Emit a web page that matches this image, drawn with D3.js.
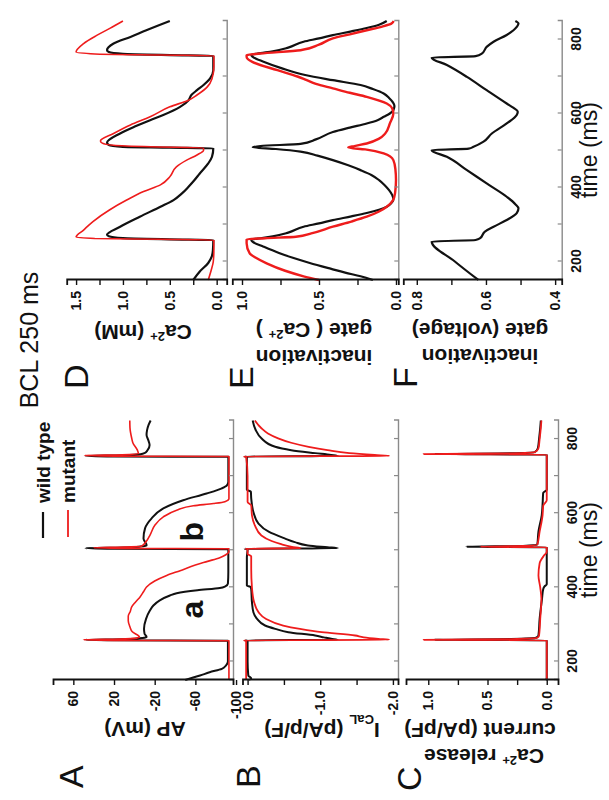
<!DOCTYPE html>
<html><head><meta charset="utf-8">
<script src="https://cdn.jsdelivr.net/npm/d3@7"></script>
<style>
body{margin:0;background:#fff}
svg{display:block}
text{font-family:"Liberation Sans",Arial,sans-serif}
</style>
</head><body>
<svg id="chart" width="609" height="800"></svg>
<script>
// ---------- data (time in ms) ----------
const timeTicks = [200,300,400,500,600,700,800];
const timeLabels = [200,400,600,800];

// A: action potential (mV)
const apWtT = [150,162,171,180,189,200,230,256,257,258.5,260,263,266,275,288,315,338,351,365,378,384,392,398,402,410,440,480,503,504,505.5,507.5,510,513,532,559,586,613,635,653,667,675,685,720,752,753,754.5,756.5,759,762,770,784,797,811,824,838,850];
const apWtV = [-50,-64.6,-74,-86,-90,-92,-92,-92,20,48,10,-8,-12,-10,-9.5,-11.5,-15.4,-18.7,-25,-35,-41.6,-62,-84,-89,-92,-92.4,-92.4,-92.4,20,48,10,-6,-12,-9,-10.5,-17,-28.5,-48,-71,-86,-91,-92.4,-92.4,-92.4,20,48,10,-6,-10,-13,-15,-13.7,-12,-12.5,-14,-16];
const apMuT = [150,200,256,257,258.5,260.5,263,266,280,293,310,322,335,347,360,374,388,401,417,432,445,460,470,480,488,495,504,505,506.5,508.5,511,525,541,568,590,608,620,626,631,639,720,753,754,755.5,757.5,760,770,790,802,830,850];
const apMuV = [-93,-93,-93,20,50,15,-2,-5,2,4.3,6,6,4,2.6,-1,-5.6,-9,-12,-20,-31.8,-45,-60,-72,-84,-90,-93,-93,10,40,10,-6.9,-12,-15.4,-20.3,-28.5,-41.6,-58,-77.7,-89,-93,-93,-93,20,49,12,-4,-3,1.5,2.6,4.3,4.5];
const beatLabels = [["a",340],["b",550]];

// B: I_CaL (pA/pF)
const bWtT = [150,155,162,200,256,257,258.5,261,265,270,279,288,297,315,333,360,395,401,405,480,503,504,505.5,508,513,522,532,550,572,603,640,658,663,750,752,753,754.5,757,762,770,779,802,825,850];
const bWtV = [-0.02,-0.05,-0.01,0,0,0.04,-1.24,-1.15,-1.05,-0.93,-0.56,-0.38,-0.24,-0.13,-0.08,-0.06,-0.05,-0.04,0.01,0.01,0,0.04,-1.24,-1.1,-0.83,-0.65,-0.51,-0.29,-0.15,-0.08,-0.05,-0.045,0.01,0.01,0,0.04,-1.24,-1.15,-0.93,-0.6,-0.38,-0.19,-0.11,-0.07];
const bMuT = [150,200,256,257,258.5,261,265,270,279,288,297,315,333,360,400,450,484,490,503,504,505.5,509,517,525,540,567,594,621,630,700,752,753,754.5,757,762,770,779,790,802,815,829,850];
const bMuV = [0.02,0.02,0.02,0.05,-1.95,-1.8,-1.6,-1.48,-1.02,-0.72,-0.49,-0.25,-0.15,-0.09,-0.06,-0.05,-0.05,0,0,0.03,-0.73,-0.61,-0.45,-0.33,-0.19,-0.1,-0.06,-0.05,0,0,0.02,0.05,-1.95,-1.75,-1.4,-1.1,-0.84,-0.6,-0.42,-0.28,-0.19,-0.1];

// C: Ca2+ release current (pA/pF)
const cWtT = [150,155,256,257,258.5,260.5,264,270,315,369,395,402,408,420,507,508,509.5,511.5,515,550,595,631,655,663,750,757,758,759.5,761.5,765,775,800,830,850];
const cWtV = [0.01,0,0,0,0.95,0.3,0.09,0.07,0.06,0.04,0.03,0.02,0,0,0,0,0.68,0.2,0.08,0.07,0.042,0.034,0.03,0,0,0,0,0.95,0.3,0.1,0.075,0.065,0.055,0.05];
const cMuT = [150,256,257,258.5,260.5,264,270,315,369,400,432,465,485,495,507,508,509.5,511.5,515,550,595,620,635,750,757,758,759.5,761.5,765,775,800,830,850];
const cMuV = [0,0,0,1.04,0.3,0.08,0.065,0.055,0.045,0.055,0.07,0.06,0.025,0,0,0,0.56,0.2,0.08,0.06,0.035,0.03,0,0,0,0,1.04,0.3,0.1,0.07,0.06,0.05,0.045];

// D: Ca2+ (mM)
const dWtT = [150,173,196,213,230,258,260,263,268,272,294,321,348,366,384,402,416,438,465,483,506,508,510,515,521,546,564,582,596,618,636,650,663,677,695,717,740,756,758,761,766,771,789,807,825,850];
const dWtV = [0.25,0.18,0.09,0.053,0.04,0.036,0.5,1.0,1.15,1.17,1.03,0.82,0.6,0.46,0.37,0.3,0.25,0.18,0.09,0.05,0.036,0.5,1.0,1.15,1.17,1.03,0.88,0.71,0.57,0.39,0.3,0.27,0.21,0.14,0.07,0.036,0.036,0.036,0.5,1.0,1.15,1.17,1.1,0.92,0.75,0.5];
const dMuT = [150,175,200,230,258,260,262,266,285,308,340,366,389,407,429,456,474,488,501,507,510,514,520,526,546,569,591,618,636,650,672,694,726,756,758,761,766,789,811,830,850];
const dMuV = [0.09,0.06,0.036,0.03,0.03,0.6,1.3,1.5,1.42,1.32,1.14,0.96,0.78,0.6,0.5,0.43,0.32,0.21,0.14,0.14,0.7,1.1,1.22,1.24,1.1,0.92,0.71,0.5,0.3,0.21,0.1,0.05,0.03,0.03,0.6,1.3,1.5,1.42,1.28,1.14,1.0];

// E: inactivation gate (Ca2+)
const eWtT = [150,160,170,180,196,210,223,240,253,259,262,268,278,294,303,312,322,331,340,348,358,367,380,393,407,420,434,447,460,474,486,497,504,509,512,518,530,550,562,573,582,591,600,609,620,630,642,654,666,677,690,704,722,740,753,758,762,768,778,794,803,812,822,831,840,850];
const eWtV = [0.15,0.23,0.33,0.42,0.56,0.67,0.76,0.86,0.93,0.94,0.9,0.8,0.7,0.6,0.5,0.41,0.29,0.19,0.11,0.06,0.03,0.017,0.025,0.045,0.075,0.11,0.16,0.23,0.31,0.41,0.51,0.62,0.78,0.93,0.88,0.62,0.52,0.41,0.3,0.19,0.12,0.08,0.04,0.017,0.01,0.02,0.045,0.08,0.15,0.23,0.41,0.59,0.74,0.86,0.93,0.94,0.9,0.8,0.7,0.6,0.5,0.41,0.29,0.19,0.11,0.06];
const eMuT = [150,160,175,195,210,222,249,260,263,267,276,294,308,321,335,348,365,385,420,450,474,492,503,508,512,519,532,546,573,600,614,627,645,656,668,680,690,700,717,739,753,758,762,771,786,803,814,825,835,843,850];
const eMuV = [0.5,0.6,0.72,0.84,0.91,0.95,0.97,0.97,0.85,0.65,0.55,0.41,0.29,0.19,0.11,0.06,0.02,0.006,0,0.004,0.017,0.08,0.2,0.31,0.27,0.19,0.11,0.07,0.04,0.017,0.025,0.06,0.19,0.3,0.41,0.52,0.58,0.64,0.77,0.93,0.97,0.97,0.88,0.62,0.5,0.41,0.3,0.19,0.09,0.03,0.015];

// F: inactivation gate (voltage)
const fT = [150,200,254,258,263,281,294,312,331,344,355,375,411,447,483,501,505,510,524,546,573,596,605,615,627,663,699,731,751,755,762,780,794,812,834,843,850];
const fV = [0.622,0.69,0.757,0.63,0.617,0.603,0.578,0.54,0.511,0.506,0.515,0.54,0.598,0.655,0.713,0.757,0.65,0.636,0.607,0.583,0.54,0.511,0.508,0.52,0.54,0.598,0.655,0.713,0.757,0.63,0.612,0.598,0.578,0.54,0.511,0.506,0.515];

// ---------- drawing ----------
const BLACK = "#111", RED = "#ee1c1c";
const svg = d3.select("#chart");
svg.append("rect").attr("width",609).attr("height",800).attr("fill","#fff");
// the whole figure is drawn landscape (800 x 609) and turned a quarter turn
const root = svg.append("g").attr("transform","translate(0,800) rotate(-90)");

const xLeft = d3.scaleLinear().domain([150,850]).range([120,379.5]);
const xRight = d3.scaleLinear().domain([150,850]).range([520,779]);

const hy = d => (d < 0 ? "-" : "") + Math.abs(d);
const fx = (n, show) => d => show(d) ? (d < 0 ? "-" : "") + Math.abs(d).toFixed(n) : "";
const near = (d, s) => Math.abs(d / s - Math.round(d / s)) < 1e-6;

const panels = [
  {x:xLeft, dom:[-97,80], rng:[233,53], ticks:[-100,-60,-20,20,60], fmt:hy,
   series:[[apWtT,apWtV,BLACK,2],[apMuT,apMuV,RED,1.6]], tl:false, beats:true},
  {x:xLeft, dom:[-2.07,0.07], rng:[398,242.5], ticks:[-2,-1.5,-1,-0.5,0], fmt:fx(1,d=>near(d,1)),
   series:[[bWtT,bWtV,BLACK,2],[bMuT,bMuV,RED,1.8]], tl:false},
  {x:xLeft, dom:[-0.095,1.188], rng:[558,406], ticks:[0,0.25,0.5,0.75,1], fmt:fx(1,d=>near(d,0.5)),
   series:[[cWtT,cWtV,BLACK,2],[cMuT,cMuV,RED,1.8]], tl:true},
  {x:xRight, dom:[-0.107,1.6], rng:[226.7,66.7], ticks:[0,0.25,0.5,0.75,1,1.25,1.5], fmt:fx(1,d=>near(d,0.5)),
   series:[[dWtT,dWtV,BLACK,2.2],[dMuT,dMuV,RED,1.6]], tl:false},
  {x:xRight, dom:[-0.015,1.063], rng:[398.3,232.3], ticks:[0,0.25,0.5,0.75,1], fmt:fx(1,d=>near(d,0.5)),
   series:[[eWtT,eWtV,BLACK,2.2],[eMuT,eMuV,RED,2.4]], tl:false},
  {x:xRight, dom:[0.381,0.839], rng:[561.7,403.3], ticks:[0.4,0.5,0.6,0.7,0.8], fmt:fx(1,d=>near(d,0.2)),
   series:[[fT,fV,BLACK,2.2]], tl:true}
];

panels.forEach(p => {
  const y = d3.scaleLinear().domain(p.dom).range(p.rng);
  const g = root.append("g");
  p.series.forEach(([T,V,col,w]) => {
    const pts = T.map((t,i) => [t, V[i]]);
    g.append("path").datum(pts)
      .attr("fill","none").attr("stroke",col).attr("stroke-width",w)
      .attr("stroke-linejoin","round")
      .attr("d", d3.line().x(d => p.x(d[0])).y(d => y(d[1])).curve(d3.curveMonotoneX));
  });
  if (p.beats) {
    beatLabels.forEach(([s, t]) => g.append("text")
      .attr("x", p.x(t)).attr("y", y(-67.5)).attr("text-anchor","middle")
      .style("font-size","32px").style("font-weight","bold").attr("fill","#111").text(s));
  }
  const ta = g.append("g").attr("transform",`translate(0,${p.rng[0]})`)
    .call(d3.axisBottom(p.x).tickValues(timeTicks).tickSize(-4).tickPadding(9)
      .tickFormat(d => p.tl && timeLabels.includes(d) ? d : ""));
  ta.select(".domain").attr("stroke","#8a8a8a").attr("stroke-width",1.4);
  ta.selectAll(".tick line").attr("stroke","#8a8a8a").attr("stroke-width",1.2);
  ta.selectAll("text").attr("fill","#111").style("font-size","14px").style("font-weight","bold");
  const va = g.append("g").attr("transform",`translate(${p.x.range()[0]},0)`)
    .call(d3.axisLeft(y).tickValues(p.ticks).tickSize(5).tickPadding(6).tickFormat(p.fmt));
  va.select(".domain").attr("stroke","#111").attr("stroke-width",1.8);
  va.selectAll(".tick line").attr("stroke","#111").attr("stroke-width",1.4);
  va.selectAll("text").attr("fill","#111").style("font-size","14px").style("font-weight","bold");
});

// ---------- texts ----------
const txt = (x, y, s, size, weight, anchor) => root.append("text")
  .attr("x", x).attr("y", y).attr("text-anchor", anchor || "start")
  .style("font-size", size + "px").style("font-weight", weight || "normal")
  .attr("fill", "#111").text(s);

txt(460, 38, "BCL 250 ms", 25, "normal", "middle");

[["A",12,83],["B",12,260],["C",9,421],["D",411,88],["E",411,253],["F",412,417]]
  .forEach(([s,x,y]) => txt(x, y, s, 34, "normal"));

root.append("line").attr("x1",262).attr("x2",288).attr("y1",43).attr("y2",43).attr("stroke",BLACK).attr("stroke-width",2.2);
root.append("line").attr("x1",263).attr("x2",290).attr("y1",68).attr("y2",68).attr("stroke",RED).attr("stroke-width",1.8);
txt(297, 50, "wild type", 19, "bold");
txt(297, 75, "mutant", 19, "bold");

txt(250, 597, "time (ms)", 23, "normal", "middle");
txt(650, 597, "time (ms)", 23, "normal", "middle");

function ytitle(cx, cy, parts) {
  const t = root.append("text").attr("transform", `translate(${cx},${cy}) rotate(-90)`)
    .attr("text-anchor","middle").style("font-size","21px").style("font-weight","bold").attr("fill","#111");
  parts.forEach(([s, kind]) => {
    const ts = t.append("tspan").text(s);
    if (kind === "sup") ts.style("font-size","13px").attr("baseline-shift","super");
    if (kind === "sub") ts.style("font-size","13px").attr("baseline-shift","sub");
  });
}
ytitle(78, 145, [["AP (mV)"]]);
ytitle(77, 322, [["I"],["CaL","sub"],[" (pA/p/F)"]]);
ytitle(51, 484, [["Ca"],["2+","sup"],[" release"]]);
ytitle(77, 480, [["current (pA/pF)"]]);
ytitle(475, 143, [["Ca"],["2+","sup"],[" (mM)"]]);
ytitle(450, 314, [["inactivation"]]);
ytitle(477, 314, [["gate ( Ca"],["2+","sup"],[" )"]]);
ytitle(451, 480, [["inactivation"]]);
ytitle(477, 480, [["gate (voltage)"]]);
</script>
</body></html>
